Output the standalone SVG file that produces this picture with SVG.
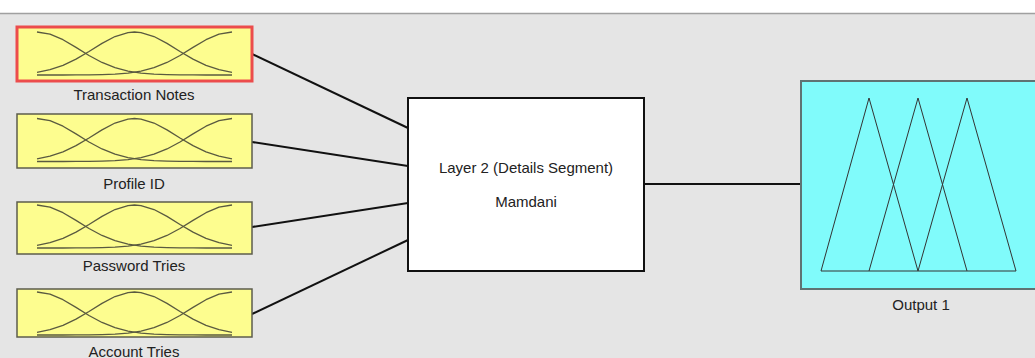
<svg xmlns="http://www.w3.org/2000/svg" width="1035" height="358" viewBox="0 0 1035 358">
<style>
.bg{fill:#e5e5e5}
.in{fill:#fdfd8f;stroke:#5c5c4c;stroke-width:1.5}
.sel{fill:#fdfd8f;stroke:#ec4c4c;stroke-width:3}
.mf{fill:none;stroke:#5a5a40;stroke-width:1.3;stroke-linejoin:round}
.lbl{font-family:"Liberation Sans",Arial,sans-serif;font-size:15px;fill:#222;text-anchor:middle}
.con{stroke:#111;stroke-width:2;fill:none}
.tri{fill:none;stroke:#333;stroke-width:1}
</style>
<defs>
<g id="mfs" class="mf">
<polyline points="0,0 13,2.07 26,7.7 39,15.41 52,23.46 65,30.46 78,35.71 91,39.16 104,41.17 117,42.21 130,42.69 143,42.89 156,42.97 169,43 195,43"/>
<polyline points="0,40.31 13,37.64 26,33.32 39,27.15 52,19.5 65,11.4 78,4.51 91,0.53 97.5,0 104,0.53 117,4.51 130,11.4 143,19.5 156,27.15 169,33.32 182,37.64 195,40.31"/>
<polyline points="195,0 182,2.07 169,7.7 156,15.41 143,23.46 130,30.46 117,35.71 104,39.16 91,41.17 78,42.21 65,42.69 52,42.89 39,42.97 26,43 0,43"/>
</g>
</defs>
<rect class="bg" x="0" y="0" width="1035" height="358"/>
<rect x="0" y="0" width="1035" height="13" fill="#ffffff"/>
<line x1="0" y1="13.5" x2="1035" y2="13.5" stroke="#a0a0a0" stroke-width="1.5"/>

<g id="connectors">
<line class="con" x1="252" y1="54" x2="408" y2="128"/>
<line class="con" x1="252" y1="142" x2="408" y2="166"/>
<line class="con" x1="252" y1="227" x2="408" y2="203"/>
<line class="con" x1="252" y1="314" x2="408" y2="240"/>
<line class="con" x1="644" y1="184" x2="801" y2="184"/>
</g>

<g id="input1">
<rect class="sel" x="17" y="27" width="235" height="54"/>
<use href="#mfs" x="37" y="32"/>
<text class="lbl" x="134" y="100">Transaction Notes</text>
</g>
<g id="input2">
<rect class="in" x="17" y="114" width="235" height="54"/>
<use href="#mfs" x="37" y="118.5"/>
<text class="lbl" x="134" y="189">Profile ID</text>
</g>
<g id="input3">
<rect class="in" x="17" y="202" width="235" height="52"/>
<use href="#mfs" x="37" y="205"/>
<text class="lbl" x="134" y="271">Password Tries</text>
</g>
<g id="input4">
<rect class="in" x="17" y="289" width="235" height="48"/>
<use href="#mfs" x="37" y="292"/>
<text class="lbl" x="134" y="357">Account Tries</text>
</g>

<g id="system">
<rect x="408" y="98" width="236" height="173" fill="#ffffff" stroke="#111" stroke-width="2"/>
<text class="lbl" x="526" y="173">Layer 2 (Details Segment)</text>
<text class="lbl" x="526" y="207">Mamdani</text>
</g>

<g id="output1">
<rect x="801" y="81" width="240" height="208" fill="#80fbfb" stroke="#5f7373" stroke-width="2"/>
<polyline class="tri" points="821,271 869,98 918,271"/>
<polyline class="tri" points="869,271 918,98 967,271"/>
<polyline class="tri" points="918,271 967,98 1016,271"/>
<line class="tri" x1="821" y1="271" x2="1016" y2="271"/>
<text class="lbl" x="921" y="310">Output 1</text>
</g>
</svg>
